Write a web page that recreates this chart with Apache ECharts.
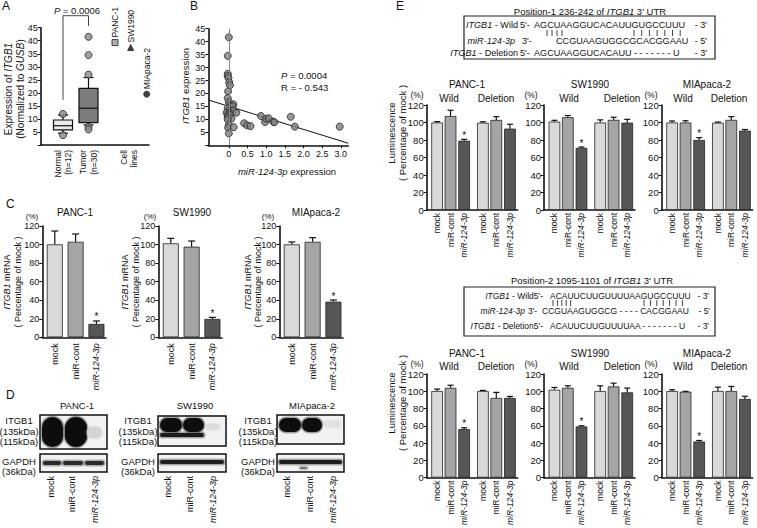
<!DOCTYPE html>
<html>
<head>
<meta charset="utf-8">
<script src="https://cdn.jsdelivr.net/npm/echarts@6.0.0/dist/echarts.min.js"></script>
<style>
html,body{margin:0;padding:0;background:#fff;}
#chart{width:757px;height:528px;}
</style>
</head>
<body>
<div id="chart"></div>
<script>
// ================= DATA =================
// Panel A : ITGB1 expression (normalized to GUSB)
const aXLabels = ['Normal\n(n=12)', 'Tumor\n(n=30)', 'Cell\nlines'];
const aNormalStats = [4.5, 5.8, 7.4, 9.6, 11.5];   // whisker-low, q1, median, q3, whisker-high
const aTumorStats  = [7.7, 8.6, 14.1, 21.7, 25.9];
const aNormalOutliers = [11.9, 3.8];
const aTumorOutliers  = [41.5, 34.5, 27.0, 7.0, 6.0];
const aCellLines = ['PANC-1', 'SW1990', 'MIApaca-2'];
const aCellLineValues = [39.3, 37.4, 19.5];
const aBracket = [17.3, 49.6, 45.7];   // left leg bottom, top, right leg bottom
const aPText = '{i|P} = 0.0006';

// Panel B : correlation ITGB1 vs miR-124-3p
const bMir = [0.00,-0.03,-0.03,-0.03,-0.01,0.01,0.03,-0.02,-0.03,0.00,0.03,0.12,0.10,-0.03,-0.01,0.13,0.20,-0.06,0.01,-0.03,0.04,-0.03,0.07,-0.03,0.00,-0.02,0.13,0.00,0.41,0.49,0.58,0.86,0.97,1.00,1.07,1.19,1.22,1.66,1.77,2.97];
const bItgb1 = [41.7,34.5,27.6,26.8,26.0,24.3,23.2,20.8,18.2,16.7,15.6,15.8,15.0,14.3,13.2,13.5,12.6,12.6,12.3,11.6,11.6,10.8,10.3,10.0,7.8,6.8,7.0,4.6,8.5,7.7,7.4,11.3,9.0,10.3,10.4,9.1,8.9,11.0,7.2,7.2];
const bFitX = [-0.55, 3.2];
const bFitY = [17.5, 0.8];
const bXTicks = [0, 0.5, 1, 1.5, 2, 2.5, 3];
const bStats = ['{i|P} = 0.0004', 'R = - 0.543'];

// Panel C : ITGB1 mRNA (% of mock)
const cCells = ['PANC-1', 'SW1990', 'MIApaca-2'];
const cGroups = ['mock', 'miR-cont', 'miR-124-3p'];
const cPancMean = [100.2, 103.0, 14.4];  const cPancErr = [14.4, 8.4, 3.2];
const cSwMean   = [101.3, 97.7, 19.8];   const cSwErr   = [5.4, 6.1, 1.7];
const cMiaMean  = [100.2, 103.0, 38.4];  const cMiaErr  = [2.6, 4.4, 1.8];

// Panel E : luciferase (% of mock)
const eGroups = ['mock', 'miR-cont', 'miR-124-3p', 'mock', 'miR-cont', 'miR-124-3p'];
const eSubHeads = ['Wild', 'Deletion'];
const e1PancMean = [100.0, 107.4, 79.2, 99.8, 102.9, 93.0];  const e1PancErr = [1.0, 6.6, 1.6, 1.0, 3.8, 5.0];
const e1SwMean   = [101.0, 106.0, 71.0, 100.0, 103.0, 99.8]; const e1SwErr   = [1.5, 2.0, 1.0, 3.0, 3.0, 3.8];
const e1MiaMean  = [100.0, 100.0, 80.0, 99.8, 103.0, 90.7];  const e1MiaErr  = [1.7, 2.0, 2.7, 0.7, 3.7, 1.3];
const e2PancMean = [100.3, 104.0, 56.2, 100.3, 92.3, 92.3];  const e2PancErr = [2.2, 3.0, 1.5, 0.7, 6.4, 1.7];
const e2SwMean   = [101.8, 104.0, 59.2, 100.3, 105.6, 98.7]; const e2SwErr   = [2.6, 2.3, 0.8, 6.0, 3.8, 5.0];
const e2MiaMean  = [100.3, 99.5, 41.8, 100.3, 100.3, 91.1];  const e2MiaErr  = [1.5, 0.4, 1.2, 4.5, 5.3, 3.1];
const pctTicksMax = 120;

// Sequences
const seq1Title = 'Position-1 236-242 of {i|ITGB1} 3\' UTR';
const seq1Wild = 'AGCUAAGGUCACAUUGUGCCUUU';
const seq1Mir  = 'CCGUAAGUGGCGCACGGAAU';
const seq1Del  = 'AGCUAAGGUCACAUU - - - - - - - U';
const seq2Title = 'Position-2 1095-1101 of {i|ITGB1} 3\' UTR';
const seq2Wild = 'ACAUUCUUGUUUUAAGUGCCUUU';
const seq2Mir  = 'CCGUAAGUGGCG - - - - CACGGAAU';
const seq2Del  = 'ACAUUCUUGUUUUAA - - - - - - - U';

// ================= LAYOUT / STYLE =================
const FONT = "'Liberation Sans', Arial, Helvetica, sans-serif";
const INK = '#111';
const barColors = ['#d9d9d9', '#a5a5a5', '#575757'];
const axisLineStyle = {color: INK, width: 1.6};

const grids = [], xAxes = [], yAxes = [], series = [], graphic = [];
function addGrid(l, t, w, h) { grids.push({left: l, top: t, width: w, height: h}); return grids.length - 1; }

function T(x, y, text, o) {
  o = o || {};
  const size = o.size || 9.5;
  return {type: 'text', x: x, y: y, rotation: o.rot || 0, silent: true, z: 10,
    style: {text: text, fontSize: size, fontFamily: FONT, fontStyle: o.italic ? 'italic' : 'normal',
      fill: o.color || INK, align: o.align || 'center', verticalAlign: o.va || 'middle',
      rich: {i: {fontStyle: 'italic', fontSize: size, fontFamily: FONT, fill: o.color || INK}}}};
}

function yAx(gi, max, interval, fmt, fs) {
  return {type: 'value', gridIndex: gi, min: 0, max: max, interval: interval,
    axisLine: {show: true, onZero: false, lineStyle: axisLineStyle},
    axisTick: {show: true, inside: false, length: 3, lineStyle: {color: INK, width: 1}},
    axisLabel: {fontSize: fs, color: INK, fontFamily: FONT, margin: 3, formatter: fmt},
    splitLine: {show: false}};
}

function italicRich(fs) { return {i: {fontStyle: 'italic', fontSize: fs, fontFamily: FONT, color: INK}}; }

function xAxBars(gi, xmax, pos, names, fs, margin) {
  return {type: 'value', gridIndex: gi, min: 0, max: xmax,
    axisLine: {show: true, onZero: false, lineStyle: axisLineStyle},
    axisTick: {show: false}, splitLine: {show: false},
    axisLabel: {customValues: pos, rotate: 90, fontSize: fs, color: INK, fontFamily: FONT, margin: margin,
      formatter: function (v) {
        const i = pos.findIndex(p => Math.abs(p - v) < 1e-6);
        const n = names[i] || '';
        return n.indexOf('miR-124') === 0 ? '{i|' + n + '}' : n;
      }, rich: italicRich(fs)}};
}

function errSeries(gi, pos, means, errs, starIdx, capW) {
  return {type: 'custom', xAxisIndex: gi, yAxisIndex: gi, z: 3, clip: false, silent: true,
    data: pos.map((x, i) => [x, means[i], errs[i], i === starIdx ? 1 : 0]),
    renderItem: function (params, api) {
      const x = api.value(0), v = api.value(1), e = api.value(2), s = api.value(3);
      const p0 = api.coord([x, v]), p1 = api.coord([x, v + e]);
      const ch = [
        {type: 'line', shape: {x1: p0[0], y1: p0[1], x2: p1[0], y2: p1[1]}, style: {stroke: INK, lineWidth: 1.2}},
        {type: 'line', shape: {x1: p1[0] - capW / 2, y1: p1[1], x2: p1[0] + capW / 2, y2: p1[1]}, style: {stroke: INK, lineWidth: 1.2}}
      ];
      if (s) ch.push({type: 'text', style: {text: '*', x: p1[0], y: p1[1] + 1, align: 'center', verticalAlign: 'bottom', fontSize: 10, fontFamily: FONT, fill: INK}});
      return {type: 'group', children: ch};
    }};
}

function barPanel(l, t, w, h, xmax, pos, names, means, errs, barW, capW, fs, margin, yfs) {
  const gi = addGrid(l, t, w, h);
  xAxes.push(xAxBars(gi, xmax, pos, names, fs, margin));
  yAxes.push(yAx(gi, pctTicksMax, 20, null, yfs));
  series.push({type: 'bar', xAxisIndex: gi, yAxisIndex: gi, barWidth: barW, z: 2, silent: true,
    data: means.map((v, i) => ({value: [pos[i], v], itemStyle: {color: barColors[i % 3], borderColor: '#222', borderWidth: 0.8}}))});
  series.push(errSeries(gi, pos, means, errs, 2, capW));
  return gi;
}

// ---------- Panel A ----------
const aXPos = [22.3, 47.8, 88.3];
const aCellX = [74.3, 90.0, 106.0];
const gA = addGrid(40.7, 27.7, 108.3, 117.3);
xAxes.push({type: 'value', gridIndex: gA, min: 0, max: 108.3,
  axisLine: {show: true, onZero: false, lineStyle: axisLineStyle}, axisTick: {show: false}, splitLine: {show: false},
  axisLabel: {customValues: aXPos, rotate: 90, fontSize: 8.5, lineHeight: 10.5, color: INK, fontFamily: FONT, margin: 5,
    formatter: function (v) { const i = aXPos.findIndex(p => Math.abs(p - v) < 1e-6); return aXLabels[i] || ''; }}});
yAxes.push(yAx(gA, 45, 5, v => v === 0 ? '' : String(v), 9));
series.push({type: 'custom', xAxisIndex: gA, yAxisIndex: gA, z: 2, silent: true,
  data: [[aXPos[0]].concat(aNormalStats, [0]), [aXPos[1]].concat(aTumorStats, [1])],
  renderItem: function (params, api) {
    const x = api.value(0);
    const p = [1, 2, 3, 4, 5].map(k => api.coord([x, api.value(k)]));
    const fill = api.value(6) ? '#7c7c7c' : '#ececec';
    const hw = 9.5, cw = 5, px = p[0][0];
    const ln = (x1, y1, x2, y2) => ({type: 'line', shape: {x1, y1, x2, y2}, style: {stroke: INK, lineWidth: 1.2}});
    return {type: 'group', children: [
      ln(px, p[1][1], px, p[0][1]), ln(px - cw, p[0][1], px + cw, p[0][1]),
      ln(px, p[3][1], px, p[4][1]), ln(px - cw, p[4][1], px + cw, p[4][1]),
      {type: 'rect', shape: {x: px - hw, y: p[3][1], width: 2 * hw, height: p[1][1] - p[3][1]}, style: {fill: fill, stroke: INK, lineWidth: 1.2}},
      ln(px - hw, p[2][1], px + hw, p[2][1])
    ]};
  }});
series.push({type: 'scatter', xAxisIndex: gA, yAxisIndex: gA, z: 4, silent: true, symbolSize: 7,
  itemStyle: {color: '#8a8a8a', borderColor: '#222', borderWidth: 1},
  data: aNormalOutliers.map(v => [aXPos[0], v]).concat(aTumorOutliers.map(v => [aXPos[1], v]))});
series.push({type: 'line', xAxisIndex: gA, yAxisIndex: gA, z: 4, silent: true, symbol: 'none', clip: false,
  lineStyle: {color: '#444', width: 1},
  data: [[aXPos[0], aBracket[0]], [aXPos[0], aBracket[1]], [aXPos[1], aBracket[1]], [aXPos[1], aBracket[2]]]});
const aSymbols = ['rect', 'triangle', 'circle'];
const aSymColors = ['#9a9a9a', '#111', '#111'];
series.push({type: 'scatter', xAxisIndex: gA, yAxisIndex: gA, z: 4, silent: true, symbolSize: 6,
  data: aCellLineValues.map((v, i) => ({value: [aCellX[i], v], symbol: aSymbols[i], itemStyle: {color: aSymColors[i], borderColor: '#222', borderWidth: 1}}))});
graphic.push(T(77, 10, aPText, {size: 9.5}));
graphic.push(T(8, 89, 'Expression of {i|ITGB1}', {rot: Math.PI / 2, size: 10}));
graphic.push(T(20, 89, '(Normalized to {i|GUSB})', {rot: Math.PI / 2, size: 10}));

// ---------- Panel B ----------
const gB = addGrid(208.3, 28.7, 140, 116.6);
xAxes.push({type: 'value', gridIndex: gB, min: -0.55, max: 3.2,
  axisLine: {show: true, onZero: false, lineStyle: axisLineStyle},
  axisTick: {show: true, customValues: bXTicks, length: 3, lineStyle: {color: INK}},
  splitLine: {show: false},
  axisLabel: {customValues: bXTicks, fontSize: 9, color: INK, fontFamily: FONT, margin: 4, formatter: v => v === 0 ? '0' : v.toFixed(1)}});
yAxes.push(yAx(gB, 45, 5, v => v === 0 ? '' : String(v), 9));
series.push({type: 'scatter', xAxisIndex: gB, yAxisIndex: gB, z: 4, silent: true, symbolSize: 7,
  itemStyle: {color: '#7f7f7f', borderColor: '#222', borderWidth: 1},
  data: bMir.map((x, i) => [x, bItgb1[i]]),
  markLine: {silent: true, symbol: 'none', label: {show: false}, lineStyle: {color: '#888', width: 1, type: 'solid'}, data: [{xAxis: 0}]}});
series.push({type: 'line', xAxisIndex: gB, yAxisIndex: gB, z: 3, silent: true, symbol: 'none',
  lineStyle: {color: INK, width: 1}, data: bFitX.map((x, i) => [x, bFitY[i]])});
graphic.push(T(281, 75, bStats[0], {align: 'left', size: 9.5}));
graphic.push(T(281, 87, bStats[1], {align: 'left', size: 9.5}));
graphic.push(T(185, 86, '{i|ITGB1} expression', {rot: Math.PI / 2, size: 9.5}));
graphic.push(T(287, 171, '{i|miR-124-3p} expression', {size: 9.5}));

// ---------- Panel C ----------
const cPos = [0.6, 1.6, 2.6];
const cLefts = [42.3, 158.3, 279.3];
const cMeans = [cPancMean, cSwMean, cMiaMean];
const cErrs = [cPancErr, cSwErr, cMiaErr];
const cTitleX = [[7, 18], [125, 136], [248, 258]];
const cHeadX = [75, 192, 316];
const cPctX = [32, 150, 268];
for (let k = 0; k < 3; k++) {
  barPanel(cLefts[k], 226, 63.7, 111.3, 3.06, cPos, cGroups, cMeans[k], cErrs[k], 16, 7, 9, 6, 9);
  graphic.push(T(cTitleX[k][0], 282, '{i|ITGB1} mRNA', {rot: Math.PI / 2, size: 9}));
  graphic.push(T(cTitleX[k][1], 282, '( Percentage of mock )', {rot: Math.PI / 2, size: 9}));
  graphic.push(T(cHeadX[k], 212, cCells[k], {size: 10}));
  graphic.push(T(cPctX[k], 216, '(%)', {size: 8}));
}

// ---------- Panel E ----------
const ePos = [0.78, 1.78, 2.8, 4.2, 5.2, 6.22];
const eLefts = [426.7, 544, 661.7];
const eHeadX = [467, 590, 707];
const eWildX = [449, 569, 683];
const eDelX = [496, 622, 729];
const ePctX = [417, 531, 651];
const e1Means = [e1PancMean, e1SwMean, e1MiaMean], e1Errs = [e1PancErr, e1SwErr, e1MiaErr];
const e2Means = [e2PancMean, e2SwMean, e2MiaMean], e2Errs = [e2PancErr, e2SwErr, e2MiaErr];
const eRows = [{top: 105, h: 105, means: e1Means, errs: e1Errs, headY: 84, subY: 98, pctY: 95, titleY: 133},
               {top: 374, h: 105.3, means: e2Means, errs: e2Errs, headY: 353, subY: 366, pctY: 364, titleY: 403}];
eRows.forEach(r => {
  for (let k = 0; k < 3; k++) {
    barPanel(eLefts[k], r.top, 91, r.h, 6.8, ePos, eGroups, r.means[k], r.errs[k], 11.7, 6, 8.5, 3, 9.5);
    graphic.push(T(eHeadX[k], r.headY, cCells[k], {size: 10}));
    graphic.push(T(eWildX[k], r.subY, eSubHeads[0], {size: 10}));
    graphic.push(T(eDelX[k], r.subY, eSubHeads[1], {size: 10}));
    graphic.push(T(ePctX[k], r.pctY, '(%)', {size: 8.5}));
  }
  graphic.push(T(391, r.titleY, 'Luminescence', {rot: Math.PI / 2, size: 9.5}));
  graphic.push(T(402, r.titleY, '( Percentage of mock )', {rot: Math.PI / 2, size: 9.5}));
});

// ---------- Sequence boxes ----------
function bars(x0, y, n, step) {
  for (let i = 0; i < n; i++) graphic.push({type: 'line', silent: true, shape: {x1: x0 + i * step, y1: y - 3, x2: x0 + i * step, y2: y + 3}, style: {stroke: INK, lineWidth: 0.8}});
}
const S1 = 9.1, S2 = 8.5;
graphic.push(T(590, 11, seq1Title, {size: 9.5}));
graphic.push({type: 'rect', silent: true, shape: {x: 464, y: 16, width: 251, height: 43}, style: {fill: 'none', stroke: '#222', lineWidth: 1.2}});
graphic.push(T(518, 25, '{i|ITGB1} - Wild', {align: 'right', size: S1}));
graphic.push(T(520, 25, "5'-", {align: 'left', size: S1}));
graphic.push(T(534, 25, seq1Wild, {align: 'left', size: S1}));
graphic.push(T(707, 25, "- 3'", {align: 'right', size: S1}));
bars(547, 33, 4, 5); bars(634, 33, 7, 7.7);
graphic.push(T(515, 41, '{i|miR-124-3p}', {align: 'right', size: S1}));
graphic.push(T(522, 41, "3'-", {align: 'left', size: S1}));
graphic.push(T(556, 41, seq1Mir, {align: 'left', size: S1}));
graphic.push(T(707, 41, "- 5'", {align: 'right', size: S1}));
graphic.push(T(518, 53, '{i|ITGB1} - Deletion', {align: 'right', size: S1}));
graphic.push(T(520, 53, "5'-", {align: 'left', size: S1}));
graphic.push(T(534, 53, seq1Del, {align: 'left', size: S1}));
graphic.push(T(707, 53, "- 3'", {align: 'right', size: S1}));

graphic.push(T(592, 280, seq2Title, {size: 9.5}));
graphic.push({type: 'rect', silent: true, shape: {x: 464, y: 287, width: 251, height: 49}, style: {fill: 'none', stroke: '#222', lineWidth: 1.2}});
graphic.push(T(543, 296, "{i|ITGB1} - Wild5'-", {align: 'right', size: S2}));
graphic.push(T(550, 296, seq2Wild, {align: 'left', size: S2}));
graphic.push(T(709, 296, "- 3'", {align: 'right', size: S2}));
bars(553, 303, 5, 4.4); bars(644, 303, 7, 6.4);
graphic.push(T(525, 311, '{i|miR-124-3p}', {align: 'right', size: S2}));
graphic.push(T(528, 311, "3'-", {align: 'left', size: S2}));
graphic.push(T(542, 311, seq2Mir, {align: 'left', size: S2}));
graphic.push(T(710, 311, "- 5'", {align: 'right', size: S2}));
graphic.push(T(543, 326, "{i|ITGB1} - Deletion5'-", {align: 'right', size: S2}));
graphic.push(T(550, 326, seq2Del, {align: 'left', size: S2}));
graphic.push(T(709, 326, "- 3'", {align: 'right', size: S2}));

// ---------- Panel D : western blots ----------
function rect(x, y, w, h, fill, r, op) {
  return {type: 'rect', silent: true, shape: {x, y, width: w, height: h, r: r || 0}, style: {fill: fill, opacity: op == null ? 1 : op}};
}
function band(x, y, w, h, c) {
  graphic.push(rect(x - 1.5, y - 1.5, w + 3, h + 3, c, Math.min(h, w) / 2 + 1.5, 0.35));
  graphic.push(rect(x, y, w, h, c, Math.min(h, w) / 2));
}
function frame(x, y, w, h) {
  graphic.push({type: 'rect', silent: true, shape: {x, y, width: w, height: h}, style: {fill: 'none', stroke: INK, lineWidth: 1.5}, z: 11});
}
const dLanes = ['mock', 'miR-cont', '{i|miR-124-3p}'];
const dBlots = [
  {x: 40, lbl: 19, title: 77, lanes: [51, 72, 95]},
  {x: 158, lbl: 138, title: 195, lanes: [168, 190, 213]},
  {x: 277, lbl: 258, title: 312, lanes: [287, 310, 333]}
];
dBlots.forEach((b, k) => {
  graphic.push(rect(b.x, 415, 67, 32 - (k === 2 ? 3 : 0) + (k === 0 ? 2 : 0), '#f2f2f2'));
  graphic.push(rect(b.x, 454, 67, 18, '#f2f2f2'));
  graphic.push(T(b.title, 405, cCells[k], {size: 9.5}));
  graphic.push(T(b.lbl, 420, 'ITGB1', {size: 9.5}));
  graphic.push(T(b.lbl, 431, '(135kDa)', {size: 9.5}));
  graphic.push(T(b.lbl, 441, '(115kDa)', {size: 9.5}));
  graphic.push(T(b.lbl, 461, 'GAPDH', {size: 9.5}));
  graphic.push(T(b.lbl, 471, '(36kDa)', {size: 9.5}));
  b.lanes.forEach((lx, i) => graphic.push(T(lx, 476, dLanes[i], {rot: Math.PI / 2, align: 'right', size: 9})));
});
// PANC-1
band(42, 417, 21, 30, '#0d0d0d'); band(65, 417, 22, 30, '#0d0d0d'); band(87, 427, 15, 11, '#d4d4d4');
band(43, 461, 18, 4, '#2a2a2a'); band(63, 461, 20, 4, '#2a2a2a'); band(85, 461, 19, 4, '#2a2a2a');
frame(40, 415, 67, 34); frame(40, 454, 67, 18);
// SW1990
band(160, 418, 22, 14, '#0d0d0d'); band(183, 418, 21, 14, '#0d0d0d');
band(160, 433, 44, 4, '#1a1a1a'); band(206, 424, 14, 6, '#dcdcdc');
band(160, 460, 64, 4, '#1e1e1e');
frame(158, 416, 68, 30); frame(158, 454, 68, 18);
// MIApaca-2
band(279, 418, 22, 14, '#0d0d0d'); band(302, 418, 20, 14, '#0d0d0d'); band(324, 420, 17, 8, '#e2e2e2');
band(279, 460, 63, 4, '#1e1e1e'); band(300, 467, 7, 2, '#777');
frame(277, 415, 67, 29); frame(277, 454, 67, 18);

// ---------- Panel letters ----------
graphic.push(T(2, 0, 'A', {align: 'left', va: 'top', size: 12}));
graphic.push(T(190, 0, 'B', {align: 'left', va: 'top', size: 12}));
graphic.push(T(6, 198, 'C', {align: 'left', va: 'top', size: 12}));
graphic.push(T(6, 389, 'D', {align: 'left', va: 'top', size: 12}));
graphic.push(T(396, 0, 'E', {align: 'left', va: 'top', size: 12}));

const chart = echarts.init(document.getElementById('chart'), null, {renderer: 'svg'});
chart.setOption({
  animation: false,
  backgroundColor: '#fff',
  textStyle: {fontFamily: FONT},
  grid: grids, xAxis: xAxes, yAxis: yAxes, series: series, graphic: graphic
});
// cell-line point labels (rotated, placed just above each marker through the axis scales)
aCellLineValues.forEach((v, i) => {
  const p = chart.convertToPixel({xAxisIndex: gA, yAxisIndex: gA}, [aCellX[i], v]);
  graphic.push(T(p[0], p[1] - 5, aCellLines[i], {rot: Math.PI / 2, align: 'left', size: 8.5}));
});
chart.setOption({graphic: graphic});
</script>
</body>
</html>
